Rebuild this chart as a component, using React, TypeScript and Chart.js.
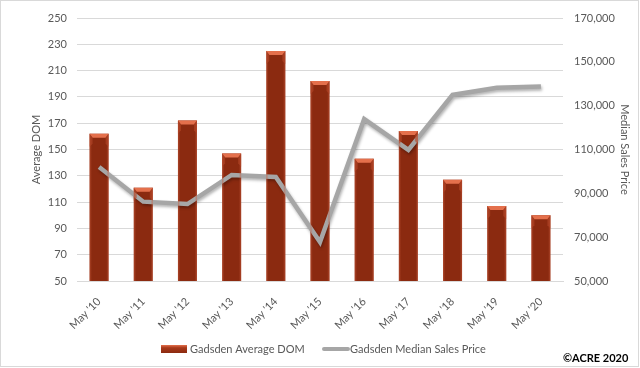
import React, { useEffect, useRef } from "react";
import { Chart, registerables } from "chart.js";

Chart.register(...registerables);

const categories = ["May '10", "May '11", "May '12", "May '13", "May '14", "May '15", "May '16", "May '17", "May '18", "May '19", "May '20"];
const avgDom = [162, 121, 172, 147, 225, 202, 143, 164, 127, 107, 100];
const medianPrice = [102000, 86200, 85100, 98400, 97500, 67800, 123900, 109800, 134900, 138200, 138700];
const domTicks = [50, 250, 20];
const priceTicks = [50000, 170000, 20000];
const barLabel = "Gadsden Average DOM";
const lineLabel = "Gadsden Median Sales Price";
const leftTitle = "Average DOM";
const rightTitle = "Median Sales Price";
const credit = "©ACRE 2020";

const FONT = "Lato, 'Open Sans', sans-serif";
const TICK_COLOR = "#595959";
const BAR_COLOR = "#8b2a10";
const LINE_COLOR = "#a6a6a6";

const decorPlugin = {
  id: "decor",
  beforeDatasetDraw(chart: any, args: any) {
    if (args.index !== 0) return;
    const ctx = chart.ctx;
    ctx.save();
    ctx.shadowColor = "rgba(0,0,0,0.3)";
    ctx.shadowBlur = 3;
    ctx.shadowOffsetX = 1;
    ctx.shadowOffsetY = 2;
  },
  afterDatasetDraw(chart: any, args: any) {
    if (args.index !== 0) return;
    chart.ctx.restore();
  },
  afterDatasetsDraw(chart: any) {
    const ctx = chart.ctx;
    const meta = chart.getDatasetMeta(1);
    const area = chart.chartArea;
    ctx.save();
    meta.data.forEach((bar: any) => {
      const x = bar.x, y = bar.y, width = bar.width;
      const base = Math.min(bar.base, area.bottom);
      if (![x, y, base, width].every((v) => Number.isFinite(v))) return;
      const l = x - width / 2;
      const r = x + width / 2;
      const g = ctx.createLinearGradient(l, 0, r, 0);
      g.addColorStop(0, "rgba(200,90,60,0.55)");
      g.addColorStop(0.12, "rgba(200,90,60,0)");
      g.addColorStop(0.88, "rgba(200,90,60,0)");
      g.addColorStop(1, "rgba(200,90,60,0.55)");
      ctx.fillStyle = g;
      ctx.fillRect(l, y, width, base - y);
      const cap = 4;
      ctx.fillStyle = "#e4704c";
      ctx.beginPath();
      ctx.moveTo(l, y);
      ctx.lineTo(r, y);
      ctx.lineTo(r - 3, y + cap);
      ctx.lineTo(l + 3, y + cap);
      ctx.closePath();
      ctx.fill();
      ctx.fillStyle = "rgba(180,70,40,0.6)";
      ctx.beginPath();
      ctx.moveTo(l, y);
      ctx.lineTo(l + 3, y + cap);
      ctx.lineTo(l + 3, y + cap + 6);
      ctx.lineTo(l, y + cap + 9);
      ctx.closePath();
      ctx.fill();
      ctx.beginPath();
      ctx.moveTo(r, y);
      ctx.lineTo(r - 3, y + cap);
      ctx.lineTo(r - 3, y + cap + 6);
      ctx.lineTo(r, y + cap + 9);
      ctx.closePath();
      ctx.fill();
    });
    ctx.restore();
  },
  afterDraw(chart: any) {
    const ctx = chart.ctx;
    ctx.save();
    ctx.strokeStyle = "#d9d9d9";
    ctx.lineWidth = 1;
    ctx.strokeRect(0.5, 0.5, 638, 366);
    const ly = 349;
    const g = ctx.createLinearGradient(0, 345, 0, 353);
    g.addColorStop(0, "#e4704c");
    g.addColorStop(0.35, "#a8391a");
    g.addColorStop(1, "#8b2a10");
    ctx.fillStyle = g;
    ctx.fillRect(161, 345, 26, 8);
    ctx.font = `11px ${FONT}`;
    ctx.fillStyle = TICK_COLOR;
    ctx.textBaseline = "middle";
    ctx.textAlign = "left";
    ctx.fillText(barLabel, 190, ly);
    ctx.strokeStyle = LINE_COLOR;
    ctx.lineWidth = 4;
    ctx.lineCap = "round";
    ctx.beginPath();
    ctx.moveTo(324, ly);
    ctx.lineTo(348, ly);
    ctx.stroke();
    ctx.fillText(lineLabel, 350, ly);
    ctx.font = `bold 11px ${FONT}`;
    ctx.fillStyle = "#000";
    ctx.fillText(credit, 563, 358);
    ctx.restore();
  },
};

export default function App() {
  const ref = useRef<HTMLCanvasElement | null>(null);
  useEffect(() => {
    if (!ref.current) return;
    const chart = new Chart(ref.current, {
      data: {
        labels: categories,
        datasets: [
          {
            type: "line",
            label: lineLabel,
            data: medianPrice,
            yAxisID: "yPrice",
            borderColor: LINE_COLOR,
            borderWidth: 4.5,
            pointRadius: 0,
            tension: 0,
            order: 0,
          } as any,
          {
            type: "bar",
            label: barLabel,
            data: avgDom,
            yAxisID: "yDom",
            backgroundColor: BAR_COLOR,
            barPercentage: 0.43,
            categoryPercentage: 1,
            order: 1,
          } as any,
        ],
      },
      options: {
        animation: false,
        responsive: false,
        maintainAspectRatio: false,
        layout: { padding: { top: 18, bottom: 0, left: 0, right: 0 } },
        plugins: { legend: { display: false }, tooltip: { enabled: false } },
        scales: {
          x: {
            grid: { display: false },
            border: { display: true, color: "#d9d9d9" },
            ticks: {
              color: TICK_COLOR,
              font: { family: FONT, size: 11 },
              maxRotation: 45,
              minRotation: 45,
              padding: 6,
              autoSkip: false,
            },
            afterFit(scale: any) {
              scale.height = 87;
            },
          },
          yDom: {
            position: "left",
            min: domTicks[0],
            max: domTicks[1],
            ticks: {
              stepSize: domTicks[2],
              color: TICK_COLOR,
              font: { family: FONT, size: 11 },
              padding: 10,
            },
            grid: { color: "#d9d9d9", drawTicks: false },
            border: { display: false },
            title: {
              display: true,
              text: leftTitle,
              color: TICK_COLOR,
              font: { family: FONT, size: 11 },
              padding: { top: 30, bottom: 0 },
            },
            afterFit(scale: any) {
              scale.width = 77;
            },
          },
          yPrice: {
            position: "right",
            min: priceTicks[0],
            max: priceTicks[1],
            ticks: {
              stepSize: priceTicks[2],
              color: TICK_COLOR,
              font: { family: FONT, size: 11 },
              padding: 11,
              callback: (v: any) => Number(v).toLocaleString("en-US"),
            },
            grid: { display: false, drawTicks: false },
            border: { display: false },
            title: {
              display: true,
              text: rightTitle,
              color: TICK_COLOR,
              font: { family: FONT, size: 11 },
              padding: { top: 9, bottom: 0 },
            },
            afterFit(scale: any) {
              scale.width = 77;
            },
          },
        },
      },
      plugins: [decorPlugin],
    } as any);
    return () => chart.destroy();
  }, []);
  return (
    <div style={{ position: "fixed", left: 0, top: 0, width: 640, height: 368, background: "#fff" }}>
      <canvas ref={ref} width={640} height={368} style={{ display: "block", width: 640, height: 368 }} />
    </div>
  );
}
